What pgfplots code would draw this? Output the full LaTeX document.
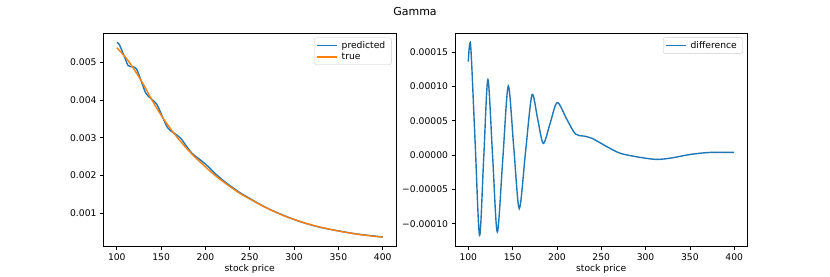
\documentclass[border=0pt]{standalone}
\usepackage{fontspec}
\setmainfont{DejaVu Sans}
\usepackage{pgfplots}
\pgfplotsset{compat=1.18}
\definecolor{tabblue}{HTML}{1F77B4}
\definecolor{taborange}{HTML}{FF7F0E}
\newcommand{\tf}{\fontsize{9.2bp}{11bp}\selectfont}
\pgfplotsset{
  mpl/.style={
    scale only axis,
    width=292.5bp, height=213.5bp,
    xmin=85, xmax=415,
    xtick={100,150,200,250,300,350,400},
    tick align=outside,
    tick pos=left,
    major tick length=3.5bp,
    every tick/.style={black, line width=0.75bp},
    axis line style={line width=0.75bp},
    tick label style={font=\tf},
    /pgf/number format/assume math mode=true,
    label style={font=\tf},
    xlabel={stock price},
    xlabel style={at={(axis description cs:0.5,0)}, anchor=center, yshift=-22.5bp},
    legend cell align=left,
    legend image code/.code={\draw[##1, line width=1.4bp] (0bp,0bp) -- (20bp,0bp);},
    legend style={at={(1,1)}, anchor=north east, xshift=-4.5bp, yshift=-4.5bp,
      draw=black!20, rounded corners=2bp, font=\tf, inner xsep=2.5bp, inner ysep=2bp, row sep=0bp,
      nodes={inner xsep=3.5bp, inner ysep=1.6bp}},
    scaled ticks=false,
  }
}
\begin{document}
\begin{tikzpicture}
\path[use as bounding box] (0,0) rectangle (830bp,277bp);
\node[font=\fontsize{11bp}{13bp}\selectfont] at (415bp,266bp) {Gamma};
\begin{axis}[mpl, at={(103.5bp,30.5bp)}, anchor=south west,
  ymin=0.00012, ymax=0.00578,
  ytick={0.001,0.002,0.003,0.004,0.005},
  yticklabels={0.001,0.002,0.003,0.004,0.005}]
\addplot[tabblue, line width=1.4bp, smooth, tension=0.5] coordinates {
(100,0.005526) (102.6,0.005484) (107.6,0.005212) (112.7,0.004921) (117.4,0.004886)
(122.1,0.004832) (127.4,0.004519) (132.7,0.004186) (138.9,0.004034) (145.1,0.003892)
(151.3,0.003571) (157.5,0.003261) (164.6,0.003125) (171.8,0.0029985) (178.2,0.002793)
(184.6,0.002597) (192.5,0.002447) (200.4,0.0022973) (211.6,0.002041) (221,0.0018506)
(230.4,0.0016877) (239.8,0.0015343) (256.8,0.001302) (271.8,0.0011125) (294.3,0.0008866)
(313,0.0007337) (330,0.000626) (350.7,0.000531) (373,0.0004439) (400,0.0003739)
};
\addlegendentry{predicted}
\addplot[taborange, line width=1.4bp, smooth, tension=0.5] coordinates {
(100,0.00539) (110,0.00513) (120,0.00480) (130,0.00442) (140,0.00399) (150,0.00360)
(160,0.00326) (170,0.00296) (180,0.00269) (190,0.00245) (200,0.00223) (210,0.00202)
(220,0.00184) (230,0.00167) (240,0.00151) (250,0.00138) (260,0.00125) (270,0.00113)
(280,0.00102) (290,0.00092) (300,0.00084) (310,0.00076) (320,0.00069) (330,0.00063)
(340,0.00058) (350,0.00053) (360,0.00049) (370,0.00045) (380,0.00042) (390,0.00039)
(400,0.00037)
};
\addlegendentry{true}
\end{axis}
\begin{axis}[mpl, at={(455bp,30.5bp)}, anchor=south west,
  ymin=-0.0001331, ymax=0.0001778,
  ytick={-0.0001,-0.00005,0,0.00005,0.0001,0.00015},
  yticklabels={−0.00010,−0.00005,0.00000,0.00005,0.00010,0.00015}]
\addplot[tabblue, line width=1.4bp, smooth, tension=0.5] coordinates {
(100,0.000136) (102.6,0.0001605) (107.6,0.000022) (112.7,-0.000117) (117.4,-0.000004)
(122.1,0.000110) (127.4,-0.000001) (132.7,-0.000112) (138.9,-0.000006) (145.1,0.0001005)
(151.3,0.000011) (157.5,-0.000078) (164.6,0.000005) (171.8,0.0000875) (178.2,0.000053)
(184.6,0.000017) (192.5,0.000047) (200.4,0.0000765) (211.6,0.000051) (221,0.0000306)
(230.4,0.0000277) (239.8,0.0000243) (256.8,0.000012) (271.8,0.0000025) (294.3,-0.0000034)
(313,-0.0000063) (330,-0.000004) (350.7,0.000001) (373,0.0000039) (400,0.0000039)
};
\addlegendentry{difference}
\end{axis}
\end{tikzpicture}
\end{document}
